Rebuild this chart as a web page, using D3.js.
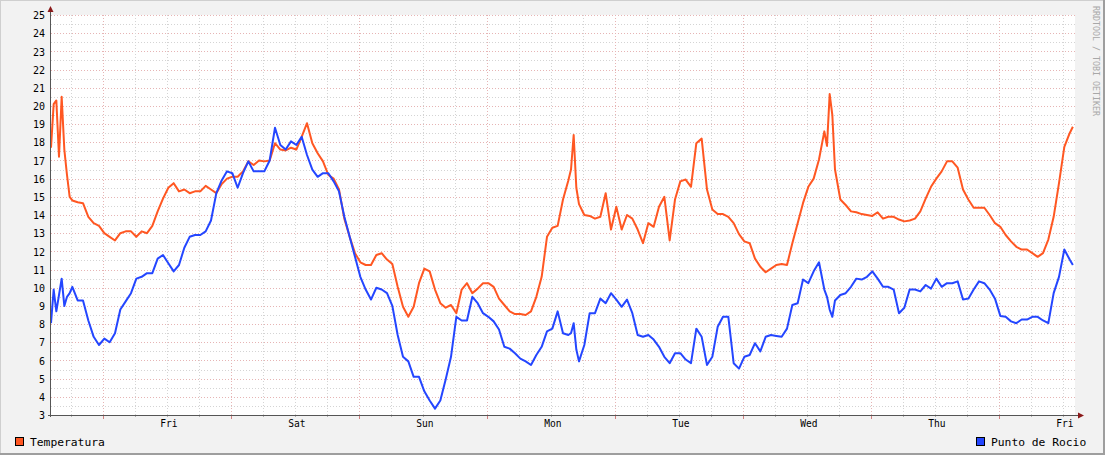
<!DOCTYPE html>
<html><head><meta charset="utf-8">
<script src="https://cdn.jsdelivr.net/npm/d3@7"></script>
<style>
html,body{margin:0;padding:0;background:#f2f2f2;}
svg{display:block;}
</style></head>
<body>
<svg id="c" width="1105" height="455"></svg>
<script>
// ---- data (hours since start of the graph window) ----
const hours = [
  0,0.5,1,1.5,2,2.5,3,3.5,4,
  5,6,7,8,9,10,11,12,13,14,
  15,16,17,18,19,20,21,22,23,24,
  25,26,27,28,29,30,31,32,33,34,
  35,36,37,38,39,40,41,42,43,44,
  45,46,47,48,49,50,51,52,53,54,
  55,56,57,58,59,60,61,62,63,64,
  65,66,67,68,69,70,71,72,73,74,
  75,76,77,78,79,80,81,82,83,84,
  85,86,87,88,89,90,91,92,93,94,
  95,96,97,97.5,98,98.5,
  99,100,101,102,103,104,105,106,107,108,
  109,110,111,112,113,114,115,116,117,118,
  119,120,121,122,123,124,125,126,127,128,
  129,130,131,132,133,134,135,136,137,138,
  139,140,141,142,143,144,145,145.5,146,146.5,147,
  148,149,150,151,152,153,154,155,156,157,
  158,159,160,161,162,163,164,165,166,167,
  168,169,170,171,172,173,174,175,176,177,
  178,179,180,181,182,183,184,185,186,187,
  188,189,190,191,191.6
];
const temperatura = [
  17.7,20.1,20.3,17.2,20.5,17.6,16.2,15.0,14.8,
  14.7,14.65,13.9,13.55,13.4,13.0,12.8,12.6,13.0,13.1,
  13.1,12.8,13.1,13.0,13.4,14.2,14.9,15.5,15.75,15.3,
  15.4,15.2,15.3,15.3,15.6,15.4,15.2,15.7,16.0,16.1,
  16.1,16.4,16.95,16.75,17.0,16.95,17.0,17.95,17.6,17.55,
  17.7,17.6,18.3,19.05,17.95,17.4,16.95,16.2,16.0,15.4,
  13.8,12.8,11.9,11.4,11.25,11.25,11.8,11.9,11.55,11.3,
  10.05,8.95,8.4,8.95,10.25,11.05,10.9,9.9,9.15,8.9,
  9.05,8.6,9.9,10.25,9.7,9.95,10.25,10.25,10.05,9.4,
  9.05,8.7,8.55,8.55,8.5,8.7,9.5,10.6,12.8,13.3,
  13.4,14.85,15.9,16.5,18.4,15.5,
  14.6,14.0,13.95,13.8,13.9,15.2,13.2,14.45,13.2,14.0,
  13.8,13.2,12.45,13.55,13.35,14.45,15.0,12.6,14.85,15.85,
  15.95,15.55,17.95,18.2,15.4,14.3,14.05,14.05,13.9,13.55,
  12.95,12.55,12.45,11.6,11.15,10.85,11.05,11.25,11.3,11.25,
  12.45,13.55,14.65,15.55,16.0,17.05,18.6,17.8,20.65,19.5,16.5,
  14.85,14.55,14.2,14.15,14.05,14.0,13.95,14.15,13.8,13.9,
  13.9,13.75,13.65,13.7,13.8,14.2,14.9,15.55,16.0,16.4,
  16.95,16.95,16.6,15.4,14.85,14.4,14.4,14.4,14.0,13.55,
  13.35,12.9,12.55,12.25,12.1,12.1,11.9,11.7,11.9,12.65,
  13.9,15.75,17.75,18.5,18.85
];
const puntoRocio = [
  8.05,9.9,8.7,9.6,10.5,9.0,9.5,9.7,10.05,
  9.3,9.3,8.2,7.3,6.85,7.2,7.0,7.5,8.8,9.25,
  9.7,10.5,10.6,10.8,10.8,11.6,11.8,11.35,10.9,11.25,
  12.2,12.8,12.9,12.9,13.1,13.7,15.2,15.9,16.4,16.3,
  15.5,16.3,16.95,16.4,16.4,16.4,17.0,18.8,17.85,17.6,
  18.05,17.85,18.3,17.3,16.5,16.1,16.3,16.3,15.85,15.3,
  13.9,12.8,11.7,10.6,9.9,9.35,10.0,9.9,9.7,9.0,
  7.4,6.2,5.95,5.1,5.1,4.3,3.8,3.35,3.8,4.95,
  6.2,8.4,8.2,8.2,9.5,9.15,8.6,8.4,8.15,7.7,
  6.75,6.65,6.4,6.1,5.95,5.75,6.3,6.75,7.6,7.75,
  8.7,7.5,7.4,7.5,8.05,6.6,
  5.95,6.85,8.6,8.6,9.4,9.15,9.7,9.35,8.95,9.35,
  8.6,7.4,7.3,7.4,7.15,6.75,6.2,5.85,6.4,6.4,
  6.05,5.85,7.75,7.3,5.75,6.2,7.85,8.4,8.4,5.85,
  5.55,6.2,6.3,6.95,6.5,7.3,7.4,7.35,7.3,7.75,
  9.05,9.15,10.45,10.25,10.9,11.4,9.9,9.5,8.8,8.4,9.3,
  9.6,9.7,10.05,10.5,10.45,10.6,10.9,10.5,10.05,10.05,
  9.9,8.6,8.9,9.9,9.9,9.8,10.15,9.95,10.5,10.05,
  10.25,10.25,10.35,9.35,9.4,9.9,10.35,10.25,9.9,9.4,
  8.45,8.4,8.15,8.05,8.25,8.25,8.4,8.4,8.2,8.05,
  9.7,10.6,12.1,11.55,11.25
];
const seriesNames = ["Temperatura", "Punto de Rocio"];
const seriesColors = ["#ff5722", "#2446ff"];
const yMin = 3, yMax = 25;
const windowStart = Date.UTC(2024, 0, 4, 14, 10); // Thu 14:10
const windowHours = 192;
const watermark = "RRDTOOL / TOBI OETIKER";

// ---- drawing ----
const W = 1105, H = 455;
const L = 51, R = 1075, T = 15, B = 415;
const svg = d3.select("#c");

// background & frame
svg.append("rect").attr("width", W).attr("height", H).attr("fill", "#f2f2f2");
svg.append("path").attr("d", `M0,${H} V0 H${W}`).attr("fill","none").attr("stroke","#cfcfcf").attr("stroke-width",2);
svg.append("path").attr("d", `M0,${H-1} H${W-1} V0`).attr("fill","none").attr("stroke","#9e9e9e").attr("stroke-width",2);

const x = d3.scaleUtc()
  .domain([new Date(windowStart), new Date(windowStart + windowHours * 3600e3)])
  .range([L, R]);
const y = d3.scaleLinear().domain([yMin, yMax]).range([B, T]);

svg.append("rect").attr("x", L).attr("y", T).attr("width", R - L).attr("height", B - T).attr("fill", "#fff");

const px = v => Math.round(v) + 0.5;
const g = svg.append("g");

// horizontal grid
const hTicks = y.ticks(44);
hTicks.forEach(v => {
  const major = Math.abs(v - Math.round(v)) < 1e-6;
  g.append("line").attr("x1", L).attr("x2", R).attr("y1", px(y(v))).attr("y2", px(y(v)))
    .attr("stroke", major ? "#e6b4b4" : "#d4d4d4").attr("stroke-dasharray", "1,2");
});
// vertical grid
const minorT = x.ticks(d3.utcHour.every(6));
const majorT = x.ticks(d3.utcDay.every(1)).map(d => +d);
minorT.forEach(d => {
  const major = majorT.includes(+d);
  g.append("line").attr("x1", px(x(d))).attr("x2", px(x(d))).attr("y1", T).attr("y2", B)
    .attr("stroke", major ? "#e6b4b4" : "#d4d4d4").attr("stroke-dasharray", "1,2");
  g.append("line").attr("x1", px(x(d))).attr("x2", px(x(d))).attr("y1", B).attr("y2", B + (major ? 4 : 2))
    .attr("stroke", major ? "#d08080" : "#b0b0b0");
});

// series
const rows = hours.map((h, i) => ({ t: new Date(windowStart + h * 3600e3), a: temperatura[i], b: puntoRocio[i] }));
const lineA = d3.line().x(d => x(d.t)).y(d => y(d.a));
const lineB = d3.line().x(d => x(d.t)).y(d => y(d.b));
svg.append("path").datum(rows).attr("d", lineA).attr("fill", "none").attr("stroke", seriesColors[0]).attr("stroke-width", 2).attr("stroke-linejoin","round");
svg.append("path").datum(rows).attr("d", lineB).attr("fill", "none").attr("stroke", seriesColors[1]).attr("stroke-width", 2).attr("stroke-linejoin","round");

// axes lines
svg.append("line").attr("x1", 50.5).attr("x2", 50.5).attr("y1", B + 2).attr("y2", 11).attr("stroke", "#555");
svg.append("line").attr("x1", 48).attr("x2", 1079).attr("y1", B + 0.5).attr("y2", B + 0.5).attr("stroke", "#555");
svg.append("path").attr("d", "M47.5,12 L53.5,12 L50.5,6 Z").attr("fill", "#8b1a1a");
svg.append("path").attr("d", "M1078,412.5 L1078,418.5 L1084,415.5 Z").attr("fill", "#8b1a1a");

// y axis labels
const yAxis = d3.axisLeft(y).tickValues(d3.range(yMin, yMax + 1)).tickSize(0).tickPadding(0).tickFormat(d3.format("d"));
const ya = svg.append("g").attr("transform", `translate(45,0.5)`).call(yAxis);
ya.select(".domain").remove();
ya.selectAll("text").attr("font-family", "DejaVu Sans Mono").attr("font-size", 10).attr("fill", "#000");

// x axis labels (noon of each day)
const noonTicks = x.ticks(d3.utcDay.every(1)).map(d => new Date(+d + 12 * 3600e3)).filter(d => x(d) <= R);
const xAxis = d3.axisBottom(x).tickValues(noonTicks).tickSize(0).tickPadding(0).tickFormat(d3.utcFormat("%a"));
const xa = svg.append("g").attr("transform", `translate(1,420)`).call(xAxis);
xa.select(".domain").remove();
xa.selectAll("text").attr("font-family", "DejaVu Sans Mono").attr("font-size", 9.6).attr("fill", "#000").attr("dy", "0.71em");

// legend
const leg = [{ x: 15, tx: 30 }, { x: 976, tx: 991 }];
seriesNames.forEach((n, i) => {
  svg.append("rect").attr("x", leg[i].x + 0.5).attr("y", 437.5).attr("width", 8).attr("height", 8)
    .attr("fill", seriesColors[i]).attr("stroke", "#000");
  svg.append("text").attr("x", leg[i].tx).attr("y", 445.5).text(n)
    .attr("font-family", "DejaVu Sans Mono").attr("font-size", 11.3).attr("fill", "#000");
});

// watermark
svg.append("text").attr("transform", "translate(1093,6) rotate(90)").text(watermark)
  .attr("font-family", "DejaVu Sans Mono").attr("font-size", 8.3).attr("fill", "#a8a8a8");
</script>
</body></html>
